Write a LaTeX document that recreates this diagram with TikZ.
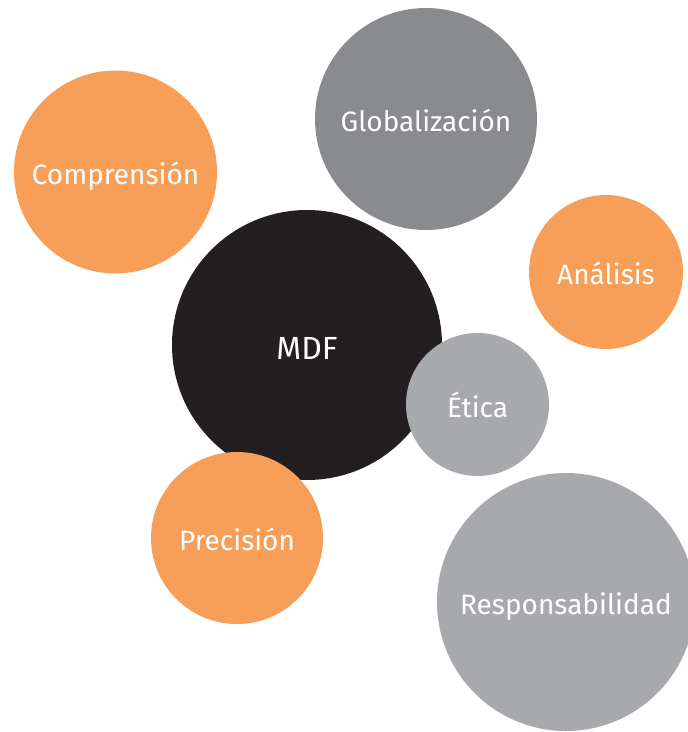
\documentclass[tikz,border=0pt]{standalone}
\usepackage{fontspec}
\setmainfont{Fira Sans}
\definecolor{borange}{HTML}{F79F59}
\definecolor{bdgray}{HTML}{8A8B8E}
\definecolor{blgray}{HTML}{A7A9AC}
\definecolor{bblack}{HTML}{231F20}
\newcommand{\btxt}[2][-12.5pt]{\raisebox{#1}[0pt][0pt]{#2}}
\tikzset{
  bubble/.style={circle, inner sep=0pt, text=white, font=\fontsize{28}{32}\selectfont},
  orangeb/.style={bubble, fill=borange},
  dgrayb/.style={bubble, fill=bdgray},
  lgrayb/.style={bubble, fill=blgray},
  blackb/.style={bubble, fill=bblack, font=\fontsize{32}{36}\selectfont}
}
\begin{document}
\begin{tikzpicture}[x=1pt,y=-1pt]
\useasboundingbox (0,0) rectangle (688,732);
\clip (0,0) rectangle (688,732);
\node[orangeb, minimum size=203pt] (compr) at (115.5,172) {\btxt{Comprensión}};
\node[dgrayb, minimum size=222pt] (glob) at (426,119) {\btxt{Globalización}};
\node[orangeb, minimum size=154pt] (anal) at (606,272) {\btxt{Análisis}};
\node[blackb, minimum size=270pt] (mdf) at (307,345) {\btxt[-14.5pt]{MDF}};
\node[lgrayb, minimum size=143pt] (etica) at (477.5,404.5) {\btxt{Ética}};
\node[orangeb, minimum size=172pt] (prec) at (237,538) {\btxt{Precisión}};
\node[lgrayb, minimum size=258pt] (resp) at (566,602) {\btxt{Responsabilidad}};
\end{tikzpicture}
\end{document}
